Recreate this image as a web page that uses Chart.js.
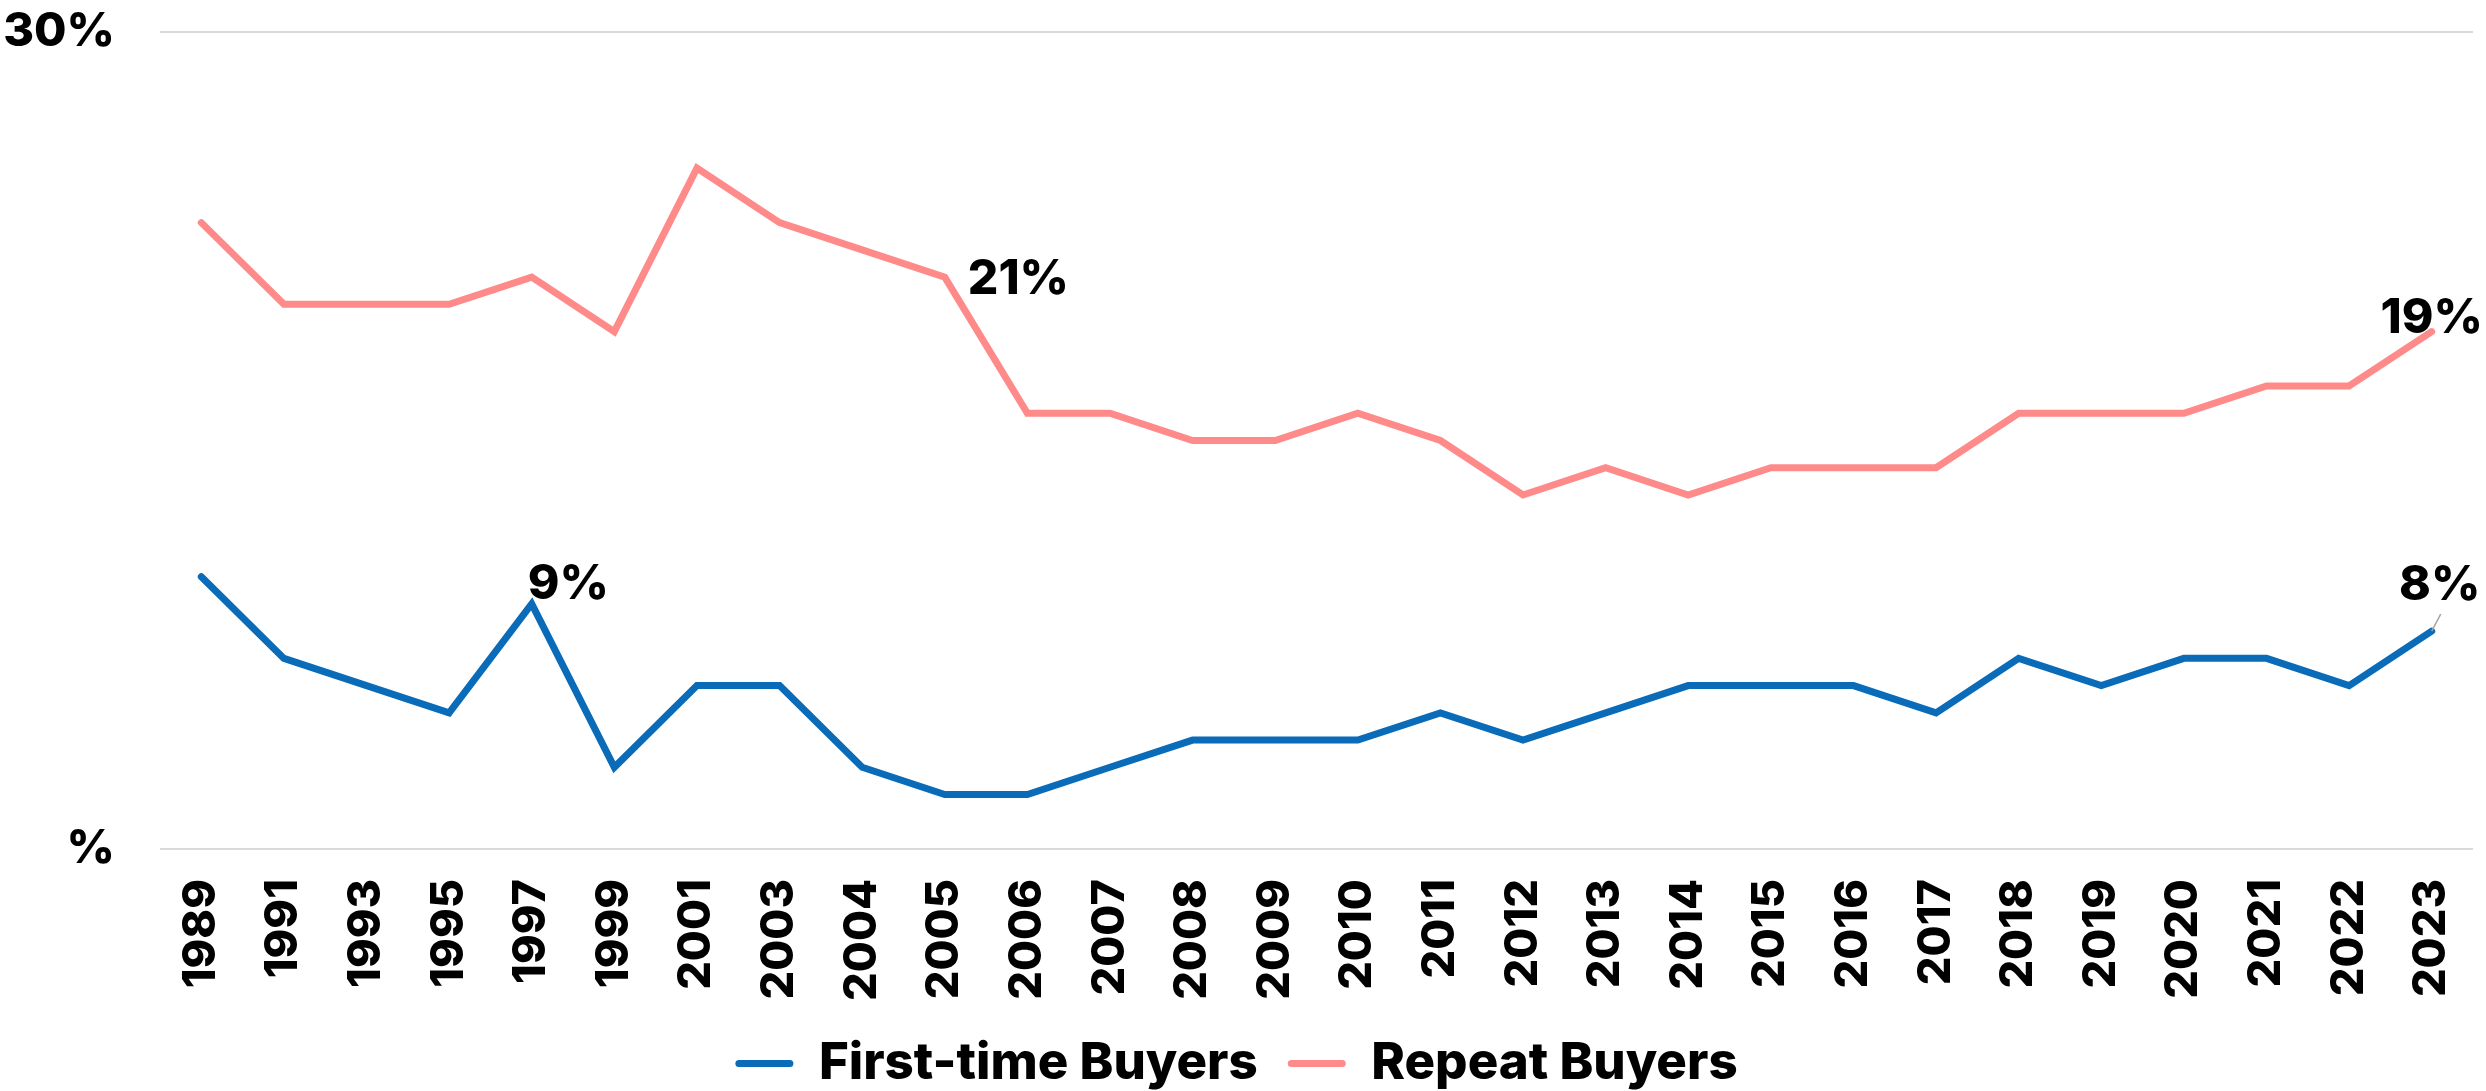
<!DOCTYPE html>
<html>
<head>
<meta charset="utf-8">
<script src="https://cdn.jsdelivr.net/npm/chart.js@4/dist/chart.umd.min.js"></script>
<style>
html,body{margin:0;padding:0;background:#fff;}
#wrap{width:2486px;height:1091px;position:relative;}
</style>
</head>
<body>
<div id="wrap"><canvas id="c"></canvas></div>
<script>
const years = ['1989','1991','1993','1995','1997','1999','2001','2003','2004','2005','2006','2007','2008','2009','2010','2011','2012','2013','2014','2015','2016','2017','2018','2019','2020','2021','2022','2023'];
const firstTimeBuyers = [10,7,6,5,9,3,6,6,3,2,2,3,4,4,4,5,4,5,6,6,6,5,7,6,7,7,6,8];
const repeatBuyers = [23,20,20,20,21,19,25,23,22,21,16,16,15,15,16,15,13,14,13,14,14,14,16,16,16,17,17,19];
const yTickValues = [0, 30];
const yTickLabels = ['%', '30%'];
const seriesNames = ['First-time Buyers', 'Repeat Buyers'];
const firstTimeLabelYears = ['1997', '2023'];
const repeatLabelYears = ['2005', '2023'];

const FONT = 'Inter';
const WEIGHT = '800';
const BLUE = '#0a6bb8';
const PINK = '#ff8a8a';

// label placement styles (pixel offsets from the drawn point)
const labelPlacement = [
  { '1997': {align:'left', dx:-4, dy:-5}, '2023': {align:'center', dx:8, dy:-31, leader:true} },
  { '2005': {align:'left', dx:23, dy:17}, '2023': {align:'center', dx:0, dy:1} }
];
const labelYears = [firstTimeLabelYears, repeatLabelYears];

const dataLabelPlugin = {
  id: 'dataLabels',
  afterLayout(chart) {
    const lg = chart.legend;
    if (lg) { lg.top += 8; lg.bottom += 8; }
  },
  afterDatasetsDraw(chart) {
    const ctx = chart.ctx;
    ctx.save();
    ctx.font = WEIGHT + ' 48px ' + FONT;
    ctx.fillStyle = '#000';
    ctx.textBaseline = 'alphabetic';
    chart.data.datasets.forEach((ds, di) => {
      const meta = chart.getDatasetMeta(di);
      labelYears[di].forEach(yr => {
        const idx = chart.data.labels.indexOf(yr);
        const pt = meta.data[idx];
        const st = labelPlacement[di][yr];
        const tx = pt.x + st.dx, ty = pt.y + st.dy;
        if (st.leader) {
          ctx.save();
          ctx.strokeStyle = '#a6a6a6';
          ctx.lineWidth = 1.5;
          ctx.beginPath();
          ctx.moveTo(pt.x, pt.y);
          ctx.lineTo(pt.x + 9, pt.y - 17);
          ctx.stroke();
          ctx.restore();
        }
        ctx.textAlign = st.align;
        ctx.fillText(ds.data[idx] + '%', tx, ty);
      });
    });
    ctx.restore();
  }
};

Chart.defaults.font.family = FONT;
Chart.defaults.font.weight = WEIGHT;
Chart.defaults.color = '#000';

new Chart(document.getElementById('c'), {
  type: 'line',
  data: {
    labels: years,
    datasets: [
      { label: seriesNames[0], data: firstTimeBuyers, borderColor: BLUE, backgroundColor: BLUE,
        borderWidth: 7, pointRadius: 0, pointHoverRadius: 0, tension: 0, borderCapStyle: 'round', borderJoinStyle: 'miter' },
      { label: seriesNames[1], data: repeatBuyers, borderColor: PINK, backgroundColor: PINK,
        borderWidth: 7, pointRadius: 0, pointHoverRadius: 0, tension: 0, borderCapStyle: 'round', borderJoinStyle: 'miter' }
    ]
  },
  options: {
    responsive: true,
    maintainAspectRatio: false,
    animation: false,
    layout: { padding: { top: 32, right: 13, bottom: 0, left: 0 } },
    scales: {
      x: {
        offset: true,
        grid: { display: false, drawTicks: false },
        border: { display: false },
        ticks: { autoSkip: false, minRotation: 90, maxRotation: 90, padding: 30,
                 font: { size: 45, weight: WEIGHT }, color: '#000' },
        afterFit(s) { s.height = 151; s.paddingLeft = 0; s.paddingRight = 0; s.paddingTop = 0; s.paddingBottom = 0; }
      },
      y: {
        min: 0, max: 30,
        grid: { color: '#d9d9d9', lineWidth: 2, drawTicks: false },
        border: { display: false },
        afterBuildTicks(s) { s.ticks = yTickValues.map(v => ({ value: v })); },
        ticks: {
          padding: 45,
          font: { size: 47, weight: WEIGHT }, color: '#000',
          callback(v) { const i = yTickValues.indexOf(v); return i >= 0 ? yTickLabels[i] : ''; }
        },
        afterFit(s) { s.width = 160; s.paddingTop = 0; s.paddingBottom = 0; s.paddingLeft = 0; s.paddingRight = 0; }
      }
    },
    plugins: {
      legend: {
        position: 'bottom',
        labels: {
          boxWidth: 58, boxHeight: 7, padding: 30, useBorderRadius: true, borderRadius: 3.5,
          font: { size: 51, weight: WEIGHT }, color: '#000',
          generateLabels(chart) {
            return Chart.defaults.plugins.legend.labels.generateLabels(chart).map(l => Object.assign(l, { lineWidth: 0, strokeStyle: 'rgba(0,0,0,0)' }));
          }
        }
      },
      tooltip: { enabled: false }
    }
  },
  plugins: [dataLabelPlugin]
});
</script>
</body>
</html>
